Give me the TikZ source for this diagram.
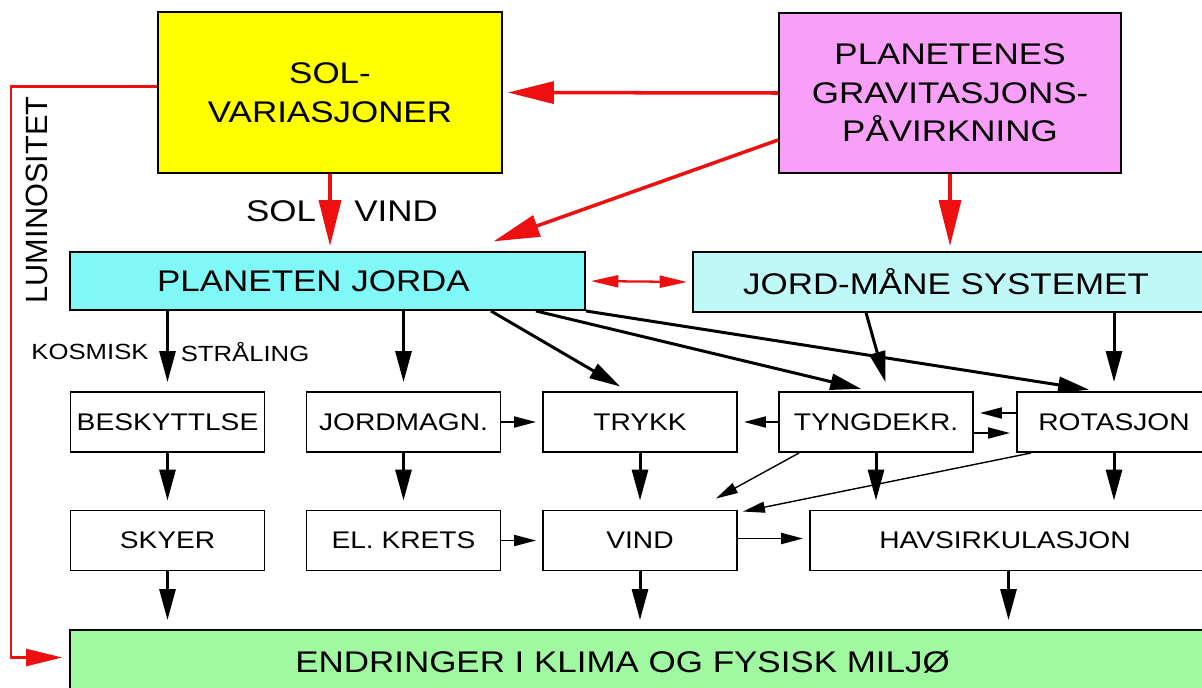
\documentclass[tikz,border=0pt]{standalone}
\usepackage{fontspec}
\setmainfont{Liberation Sans}[FakeStretch=1.17]
\newfontfamily\lumfamily{Liberation Sans}
\usetikzlibrary{arrows.meta}
\usetikzlibrary{calc}
\usetikzlibrary{positioning}

\definecolor{solyel}{RGB}{255,255,0}
\definecolor{planpink}{RGB}{248,160,248}
\definecolor{jordcyan}{RGB}{128,248,248}
\definecolor{jmscyan}{RGB}{192,248,248}
\definecolor{miljgreen}{RGB}{160,248,160}
\definecolor{arrred}{RGB}{238,16,16}

\newcommand{\fntbig}{\fontsize{17}{22}\selectfont}
\newcommand{\fntmid}{\fontsize{13.7}{16}\selectfont}
\newcommand{\fntsml}{\fontsize{12.5}{15}\selectfont}
\newcommand{\fntlum}{\lumfamily\fontsize{17.5}{20}\selectfont}

\begin{document}
\begin{tikzpicture}[x=0.02cm,y=-0.02cm,
  box/.style={draw,line width=1.1pt,inner sep=0pt,minimum width=3.88cm,minimum height=1.2cm,font=\fntmid},
  bigbox/.style={box,font=\fntbig,align=center},
  lbl/.style={inner sep=0pt},
  redarr/.style={draw=arrred,line width=2pt,-{Triangle[length=0.92cm,width=0.44cm]},shorten >=0.1cm},
  redtwin/.style={draw=arrred,line width=1.3pt,{Triangle[length=0.55cm,width=0.24cm]}-{Triangle[length=0.55cm,width=0.24cm]},shorten <=0.1cm,shorten >=0.1cm},
  lumarr/.style={draw=arrred,line width=1.3pt,-{Triangle[length=0.72cm,width=0.34cm]},shorten >=0.14cm},
  bigarr/.style={line width=1.7pt,-{Triangle[length=0.62cm,width=0.32cm]},shorten >=0.18cm},
  smlarr/.style={line width=1.1pt,-{Triangle[length=0.44cm,width=0.22cm]},shorten >=0.12cm},
  thinarr/.style={line width=0.8pt,-{Triangle[length=0.44cm,width=0.22cm]}}]
\useasboundingbox (0,0) rectangle (1202,687);

% top boxes
\node[bigbox,fill=solyel,minimum width=6.88cm,minimum height=3.22cm] (sol) at (330,92.5) {SOL-\\VARIASJONER};
\node[bigbox,fill=planpink,minimum width=6.84cm,minimum height=3.2cm] (plan) at (950,93) {PLANETENES\\GRAVITASJONS-\\PÅVIRKNING};
\node[bigbox,fill=jordcyan,minimum width=10.3cm,minimum height=1.16cm] (jorda) at (327.5,281) {\hspace*{-0.56cm}PLANETEN JORDA};
\node[bigbox,fill=jmscyan,minimum width=10.44cm] (jms) at (954,282) {\hspace*{-0.32cm}JORD-MÅNE SYSTEMET};

% row 1
\node[box] (besk) at (167.5,422) {BESKYTTLSE};
\node[box] (jmag) at (403.5,422) {JORDMAGN.};
\node[box] (trykk) at (640,422) {TRYKK};
\node[box] (tyng) at (876,422) {TYNGDEKR.};
\node[box] (rot) at (1114,422) {ROTASJON};

% row 2
\node[box] (skyer) at (167.5,540.5) {SKYER};
\node[box] (elk) at (403.5,540.5) {EL. KRETS};
\node[box] (vind) at (640,540.5) {VIND};
\node[box,minimum width=8.1cm] (havs) at (1012.5,540.5) {\hspace*{-0.3cm}HAVSIRKULASJON};

\node[bigbox,fill=miljgreen,minimum width=22.9cm,minimum height=1.3cm] (milj) at (642.5,662.5) {\hspace*{-0.8cm}ENDRINGER I KLIMA OG FYSISK MILJØ};

% labels
\node[lbl,font=\fntbig] (solL) at (281,211) {SOL};
\node[lbl,font=\fntbig] (vindL) at (396,211) {VIND};
\node[lbl,font=\fntsml] (kosL) at (90,352) {KOSMISK};
\node[lbl,font=\fntsml] (strL) at (245,352) {STRÅLING};
\node[lbl,font=\fntlum,rotate=90] (lumL) at (37,200) {LUMINOSITET};

% red connectors
\coordinate (lumx) at (11,0);
\draw[lumarr] ($(sol.west)+(0,-6)$) -- ($(sol.west -| lumx)+(0,-6)$) |- ($(milj.west)+(0,-5)$);
\draw[redarr] (plan.west) -- (sol.east);
\draw[redarr] ($(plan.west)+(0,47)$) -- ($(jorda.north east)+(-97,-8)$);
\draw[redarr] (sol.south) -- (sol.south |- jorda.north);
\draw[redarr] (plan.south) -- (plan.south |- jms.north);
\draw[redtwin] (jorda.east) -- (jms.west);

% from the earth and the earth-moon system
\draw[bigarr] (besk.north |- jorda.south) -- (besk.north);
\draw[bigarr] (jmag.north |- jorda.south) -- (jmag.north);
\draw[bigarr] ($(jorda.south east)+(-95,0)$) -- ($(trykk.north)+(-12,0)$);
\draw[bigarr] ($(jorda.south east)+(-50,0)$) -- ($(tyng.north)+(-6,0)$);
\draw[bigarr] (jorda.south east) -- ($(rot.north)+(-16,0)$);
\draw[bigarr] ($(jms.south west)+(174,0)$) -- ($(tyng.north)+(12,0)$);
\draw[bigarr] (rot.north |- jms.south) -- (rot.north);

% row 1 to row 2
\draw[bigarr] (besk.south) -- (besk.south |- skyer.north);
\draw[bigarr] (jmag.south) -- (jmag.south |- elk.north);
\draw[bigarr] (trykk.south) -- (trykk.south |- vind.north);
\draw[bigarr] (tyng.south) -- (tyng.south |- havs.north);
\draw[bigarr] (rot.south) -- (rot.south |- havs.north);

% row 2 to bottom
\draw[bigarr] (skyer.south) -- (skyer.south |- milj.north);
\draw[bigarr] (vind.south) -- (vind.south |- milj.north);
\draw[bigarr] ($(havs.south)+(-4,0)$) -- ($(havs.south |- milj.north)+(-4,0)$);

% side arrows
\draw[smlarr] (jmag.east) -- (trykk.west);
\draw[smlarr] (tyng.west) -- (trykk.east);
\draw[smlarr] ($(rot.west)+(0,-9)$) -- ($(tyng.east)+(0,-9)$);
\draw[smlarr] ($(tyng.east)+(0,11)$) -- ($(rot.west)+(0,11)$);
\draw[smlarr] (elk.east) -- (vind.west);
\draw[smlarr] ($(vind.east)+(0,-2)$) -- ($(havs.west)+(0,-2)$);
\draw[thinarr] ($(tyng.south west)+(21,0)$) -- ($(vind.north east)+(-22,-11)$);
\draw[thinarr] ($(rot.south west)+(15,0)$) -- ($(vind.north east)+(5,2)$);

\end{tikzpicture}
\end{document}
